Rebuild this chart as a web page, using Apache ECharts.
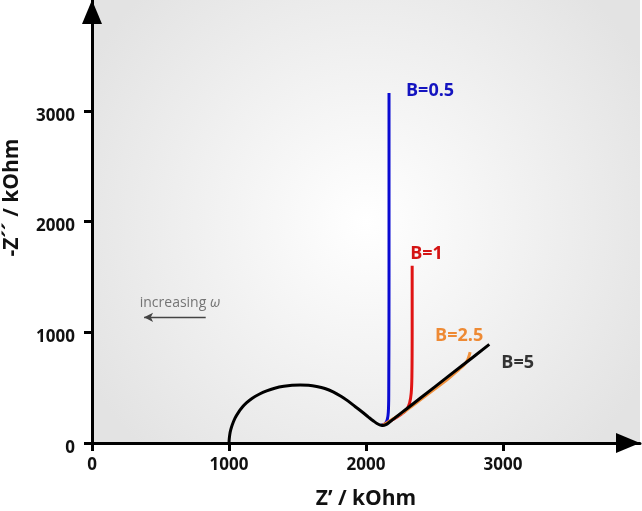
<!DOCTYPE html>
<html><head><meta charset="utf-8">
<script src="https://cdn.jsdelivr.net/npm/echarts@6/dist/echarts.min.js"></script>
<style>html,body{margin:0;padding:0;background:#fff}#c{width:642px;height:511px}</style>
</head><body><div id="c"></div>
<script>
const xTicks = [0, 1000, 2000, 3000];
const yTicks = [0, 1000, 2000, 3000];
const seriesNames = ['B=0.5', 'B=1', 'B=2.5', 'B=5'];
const b05 = [[2110,160],[2140,175],[2155,210],[2163,280],[2166,450],[2168,1500],[2168,3160]];
const b1 = [[2120,160],[2200,215],[2260,262],[2295,300],[2318,360],[2330,450],[2335,600],[2337,1000],[2337,1600]];
const b25 = [[2120,158],[2300,300],[2450,440],[2600,580],[2680,665],[2720,710],[2745,760],[2760,820]];
const b5 = [[1000,0],[1002,40],[1006,80],[1013,120],[1024,165],[1044,225],[1068,275],[1098,325],[1129,365],[1170,405],[1220,440],[1275,470],[1340,497],[1400,512],[1460,521],[1520,524],[1580,521],[1640,510],[1700,492],[1760,462],[1820,420],[1870,378],[1920,330],[1970,282],[2020,232],[2055,198],[2080,176],[2100,164],[2120,159],[2145,166],[2175,192],[2300,312],[2500,505],[2700,697],[2900,890]];
const annotText = ['increasing ', 'ω'];
const annotPos = [[642, 1264]];
const annotArrow = [[830, 1135], [380, 1135]];

const chart = echarts.init(document.getElementById('c'), null, {renderer: 'canvas'});
const F = 'Open Sans';
function axisCommon(ticks) {
  return {
    type: 'value', min: 0, max: 4000, interval: 1000,
    splitLine: {show: false},
    axisLine: {show: true, lineStyle: {color: '#000', width: 3}, symbol: ['none', 'triangle'], symbolSize: [20, 24], symbolOffset: [0, -12]},
    axisTick: {show: true, length: 8, lineStyle: {color: '#000', width: 3}, customValues: ticks},
    nameTextStyle: {fontFamily: F, fontWeight: 'bold', fontSize: 21, color: '#111'}
  };
}
const fmt = function (v) { return String(v); };
const fmtY = function (v) { return '{v|' + v + '}'; };
const xa = axisCommon(xTicks);
xa.axisLabel = {customValues: xTicks, formatter: fmt, fontFamily: F, fontWeight: 'bold', fontSize: 17, color: '#111', margin: 14};
xa.name = "Z\u2019 / kOhm"; xa.nameLocation = 'middle'; xa.nameGap = 46;
const ya = axisCommon(yTicks);
ya.axisLabel = {customValues: yTicks, formatter: fmtY, margin: 17,
  rich: {v: {fontFamily: F, fontWeight: 'bold', fontSize: 17, color: '#111', padding: [10, 0, 0, 0]}}};
ya.name = "-Z\u00b4\u00b4 / kOhm"; ya.nameLocation = 'middle'; ya.nameGap = 69;
ya.nameTextStyle = Object.assign({}, ya.nameTextStyle, {padding: [0, 0, 0, 48]});

function lineSeries(name, data, color, labelColor, offset) {
  return {
    name: name, type: 'line', data: data, showSymbol: false, symbol: 'none', smooth: 0.35,
    lineStyle: {color: color, width: 3}, silent: true,
    endLabel: {show: true, formatter: name, color: labelColor, fontFamily: F, fontWeight: 'bold', fontSize: 18, offset: offset}
  };
}

chart.setOption({
  animation: false,
  grid: {left: 92, right: 2, top: 0, bottom: 68, show: true, borderWidth: 0, containLabel: false, outerBoundsMode: 'none',
    backgroundColor: new echarts.graphic.RadialGradient(0.5, 0.5, 0.72, [{offset: 0, color: '#ffffff'}, {offset: 1, color: '#e3e3e3'}])},
  xAxis: xa,
  yAxis: ya,
  series: [
    lineSeries(seriesNames[0], b05, '#0a0ad2', '#1414c0', [9, -2]),
    lineSeries(seriesNames[1], b1, '#e01414', '#d41414', [-10, -12]),
    lineSeries(seriesNames[2], b25, '#f0903c', '#ee8a34', [-43, -16]),
    lineSeries(seriesNames[3], b5, '#000000', '#333333', [4, 18]),
    {
      type: 'scatter', data: annotPos, symbolSize: 0, silent: true,
      label: {show: true, position: 'inside', formatter: '{a|' + annotText[0] + '}{b|' + annotText[1] + '}',
        rich: {a: {fontFamily: F, fontSize: 14, color: '#555'}, b: {fontFamily: F, fontSize: 14, fontStyle: 'italic', color: '#555'}}},
      markLine: {silent: true, symbol: ['none', 'arrow'], symbolSize: [7, 9], label: {show: false},
        lineStyle: {color: '#444', width: 1.3, type: 'solid'},
        data: [[{coord: annotArrow[0]}, {coord: annotArrow[1]}]]}
    }
  ]
});
</script></body></html>
